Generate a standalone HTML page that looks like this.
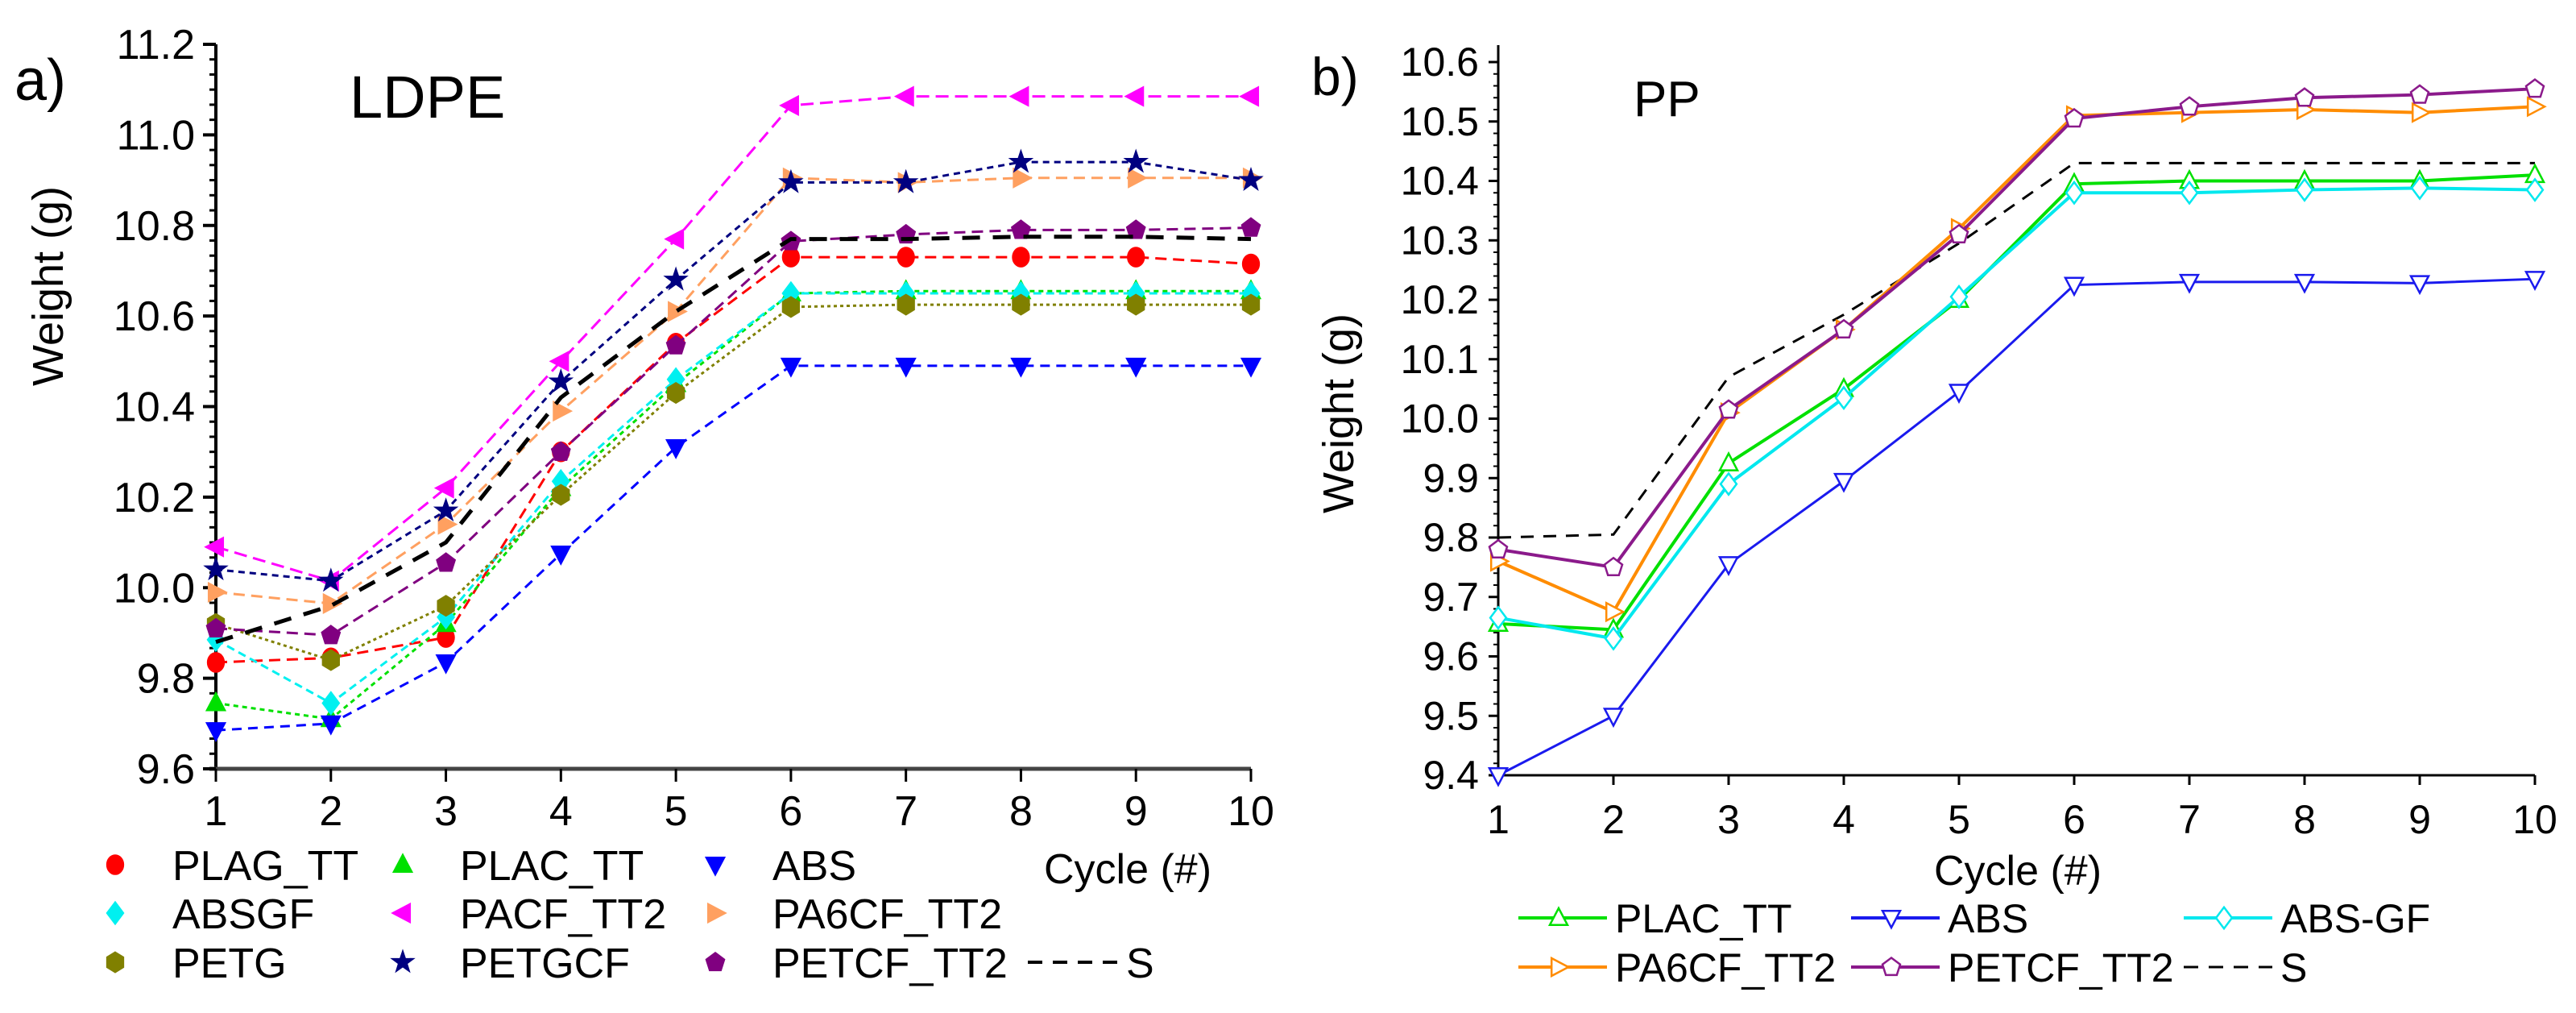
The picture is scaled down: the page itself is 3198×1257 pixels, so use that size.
<!DOCTYPE html>
<html><head><meta charset="utf-8"><style>
html,body{margin:0;padding:0;background:#fff;}
svg{display:block;font-family:"Liberation Sans",Arial,sans-serif;}
</style></head><body>
<svg id="chart" width="3198" height="1257" viewBox="0 0 3198 1257" xmlns="http://www.w3.org/2000/svg">
<g id="left"></g>
<g id="right"></g>
</svg>
<script>
const cycles = [1,2,3,4,5,6,7,8,9,10];
const leftNames = ["PLAG_TT","PLAC_TT","ABS","ABSGF","PACF_TT2","PA6CF_TT2","PETG","PETGCF","PETCF_TT2","S"];
const plagTT = [9.835,9.845,9.89,10.30,10.54,10.73,10.73,10.73,10.73,10.715];
const placTT = [9.745,9.71,9.92,10.22,10.45,10.65,10.655,10.655,10.655,10.655];
const absL = [9.685,9.70,9.835,10.075,10.31,10.49,10.49,10.49,10.49,10.49];
const absgf = [9.885,9.745,9.935,10.235,10.46,10.65,10.65,10.65,10.65,10.65];
const pacf = [10.09,10.015,10.22,10.50,10.77,11.065,11.085,11.085,11.085,11.085];
const pa6cfL = [9.99,9.965,10.14,10.39,10.61,10.905,10.895,10.905,10.905,10.905];
const petg = [9.92,9.84,9.96,10.205,10.43,10.62,10.625,10.625,10.625,10.625];
const petgcf = [10.04,10.015,10.17,10.455,10.68,10.895,10.895,10.94,10.94,10.90];
const petcfL = [9.91,9.895,10.055,10.30,10.535,10.765,10.78,10.79,10.79,10.795];
const sL = [9.88,9.96,10.10,10.42,10.61,10.77,10.77,10.775,10.775,10.77];
const leftTicks = ["9.6","9.8","10.0","10.2","10.4","10.6","10.8","11.0","11.2"];

const rightNames = ["PLAC_TT","ABS","ABS-GF","PA6CF_TT2","PETCF_TT2","S"];
const placR = [9.655,9.645,9.925,10.05,10.20,10.395,10.40,10.40,10.40,10.41];
const absR = [9.40,9.50,9.755,9.895,10.045,10.225,10.23,10.23,10.228,10.235];
const absgfR = [9.665,9.63,9.89,10.035,10.205,10.38,10.38,10.385,10.388,10.385];
const pa6cfR = [9.76,9.675,10.01,10.15,10.32,10.51,10.515,10.52,10.515,10.525];
const petcfR = [9.78,9.75,10.015,10.15,10.31,10.505,10.525,10.54,10.545,10.555];
const sR = [9.80,9.805,10.07,10.175,10.295,10.43,10.43,10.43,10.43,10.43];
const rightTicks = ["9.4","9.5","9.6","9.7","9.8","9.9","10.0","10.1","10.2","10.3","10.4","10.5","10.6"];

const NS="http://www.w3.org/2000/svg";
function mk(parent,tag,attrs,text){const e=document.createElementNS(NS,tag);for(const k in attrs)e.setAttribute(k,attrs[k]);if(text!==undefined)e.textContent=text;parent.appendChild(e);return e;}

function marker(g,type,cx,cy,r,fill,stroke){
  let e;
  const poly=(pts)=>mk(g,'polygon',{points:pts.map(p=>(cx+p[0]*r).toFixed(1)+','+(cy+p[1]*r).toFixed(1)).join(' '),fill:fill,stroke:stroke,'stroke-width':2.5});
  if(type==='circle') e=mk(g,'ellipse',{cx:cx,cy:cy,rx:r*0.9,ry:r*1.05,fill:fill,stroke:stroke,'stroke-width':2.5});
  else if(type==='up') e=poly([[0,-1.1],[1,0.8],[-1,0.8]]);
  else if(type==='down') e=poly([[0,1.1],[1,-0.8],[-1,-0.8]]);
  else if(type==='left') e=poly([[-1.1,0],[0.8,-1],[0.8,1]]);
  else if(type==='right') e=poly([[1.1,0],[-0.8,-1],[-0.8,1]]);
  else if(type==='diamond') e=poly([[0,-1.2],[0.9,0],[0,1.2],[-0.9,0]]);
  else if(type==='hex') e=poly([[0,-1.1],[0.9,-0.55],[0.9,0.55],[0,1.1],[-0.9,0.55],[-0.9,-0.55]]);
  else if(type==='pent') e=poly([[0,-1.05],[1,-0.3],[0.62,0.9],[-0.62,0.9],[-1,-0.3]]);
  else if(type==='star'){const pts=[];for(let i=0;i<10;i++){const a=-Math.PI/2+i*Math.PI/5;const rr=i%2?0.45:1.15;pts.push([Math.cos(a)*rr,Math.sin(a)*rr]);}e=poly(pts);}
  return e;
}

/* ---------- LEFT ---------- */
(function(){
  const g=document.getElementById('left');
  const x0=268,x1=1553,yb=954,yt=55,vmin=9.6,vmax=11.2;
  const X=c=>x0+(c-1)*(x1-x0)/9;
  const Y=v=>yb-(v-vmin)*(yb-yt)/(vmax-vmin);
  const ax=mk(g,'line',{x1:x0,y1:yt,x2:x0,y2:yb,stroke:'#000','stroke-width':4});
  
  const bx=mk(g,'line',{x1:x0-8,y1:yb,x2:x1,y2:yb,stroke:'#444','stroke-width':5});
  
  leftTicks.forEach((t,i)=>{
    const v=parseFloat(t),y=Y(v);
    mk(g,'line',{x1:x0-16,y1:y,x2:x0,y2:y,stroke:'#000','stroke-width':4});
    if(i<leftTicks.length-1){for(let k=1;k<6;k++){const yy=Y(v+0.2*k/6);mk(g,'line',{x1:x0-8,y1:yy,x2:x0,y2:yy,stroke:'#000','stroke-width':3});}}
    const tl=mk(g,'text',{x:x0-26,y:y+18,'text-anchor':'end','font-size':52},t);
    
  });
  cycles.forEach(c=>{
    mk(g,'line',{x1:X(c),y1:yb,x2:X(c),y2:yb+16,stroke:'#000','stroke-width':3});
    const tl=mk(g,'text',{x:X(c),y:yb+70,'text-anchor':'middle','font-size':52},String(c));
    
  });
  const yl=mk(g,'text',{x:0,y:0,transform:'translate(78,355) rotate(-90)','text-anchor':'middle','font-size':54},'Weight (g)');
  
  const pl=mk(g,'text',{x:18,y:124,'font-size':72},'a)');
  
  const tt=mk(g,'text',{x:434,y:146,'font-size':74},'LDPE');
  

  const series=[
    {d:plagTT,c:'#ff0000',m:'circle',dash:'14 8'},
    {d:placTT,c:'#00e000',m:'up',dash:'6 5'},
    {d:absL,c:'#0000ff',m:'down',dash:'12 8'},
    {d:absgf,c:'#00f0f0',m:'diamond',dash:'10 6'},
    {d:pacf,c:'#ff00ff',m:'left',dash:'16 8'},
    {d:pa6cfL,c:'#ffa060',m:'right',dash:'14 8'},
    {d:petg,c:'#808000',m:'hex',dash:'4 4'},
    {d:petgcf,c:'#000080',m:'star',dash:'8 6'},
    {d:petcfL,c:'#800080',m:'pent',dash:'14 8'}
  ];
  series.forEach((s,si)=>{
    const sg=mk(g,'g',{});
    
    
    mk(sg,'polyline',{points:s.d.map((v,i)=>X(cycles[i])+','+Y(v)).join(' '),fill:'none',stroke:s.c,'stroke-width':3,'stroke-dasharray':s.dash});
    s.d.forEach((v,i)=>{const m=marker(sg,s.m,X(cycles[i]),Y(v),11,s.c,s.c);
      });
  });
  const sg=mk(g,'g',{});
  
  mk(sg,'polyline',{points:sL.map((v,i)=>X(cycles[i])+','+Y(v)).join(' '),fill:'none',stroke:'#000','stroke-width':5,'stroke-dasharray':'22 16'});

  const lg=mk(g,'g',{});
  
  const colX=[143,500,888],txtX=[214,571,959],rowY=[1073,1133,1194];
  series.forEach((s,i)=>{
    const r=Math.floor(i/3),c=i%3;
    const e=mk(lg,'g',{});
    
    marker(e,s.m,colX[c],rowY[r],11,s.c,s.c);
    mk(e,'text',{x:txtX[c],y:rowY[r]+19,'font-size':52},leftNames[i]);
  });
  const se=mk(lg,'g',{});
  
  mk(se,'line',{x1:1276,y1:1194,x2:1390,y2:1194,stroke:'#000','stroke-width':4,'stroke-dasharray':'18 13'});
  mk(se,'text',{x:1398,y:1213,'font-size':52},'S');
  const xt=mk(g,'text',{x:1296,y:1096,'font-size':52},'Cycle (#)');
  
})();

/* ---------- RIGHT ---------- */
(function(){
  const g=document.getElementById('right');
  const x0=1860,x1=3147,yb=962,yt=77,vmin=9.4,vmax=10.6;
  const X=c=>x0+(c-1)*(x1-x0)/9;
  const Y=v=>yb-(v-vmin)*(yb-yt)/(vmax-vmin);
  const ax=mk(g,'line',{x1:x0,y1:56,x2:x0,y2:yb,stroke:'#000','stroke-width':3});
  
  const bx=mk(g,'line',{x1:x0,y1:yb,x2:x1,y2:yb,stroke:'#000','stroke-width':3});
  
  rightTicks.forEach((t,i)=>{
    const v=parseFloat(t),y=Y(v);
    mk(g,'line',{x1:x0-12,y1:y,x2:x0,y2:y,stroke:'#000','stroke-width':3});
    if(i<rightTicks.length-1){for(let k=1;k<5;k++){const yy=Y(v+0.1*k/5);mk(g,'line',{x1:x0-6,y1:yy,x2:x0,y2:yy,stroke:'#000','stroke-width':2});}}
    const tl=mk(g,'text',{x:x0-24,y:y+17,'text-anchor':'end','font-size':50},t);
    
  });
  cycles.forEach(c=>{
    mk(g,'line',{x1:X(c),y1:yb,x2:X(c),y2:yb+12,stroke:'#000','stroke-width':3});
    const tl=mk(g,'text',{x:X(c),y:yb+72,'text-anchor':'middle','font-size':50},String(c));
    
  });
  const xt=mk(g,'text',{x:2505,y:1098,'text-anchor':'middle','font-size':52},'Cycle (#)');
  
  const yl=mk(g,'text',{x:0,y:0,transform:'translate(1680,513) rotate(-90)','text-anchor':'middle','font-size':54},'Weight (g)');
  
  const pl=mk(g,'text',{x:1628,y:118,'font-size':66},'b)');
  
  const tt=mk(g,'text',{x:2028,y:144,'font-size':62},'PP');
  

  const series=[
    {d:sR,c:'#000',m:null,dash:'16 12',w:3},
    {d:placR,c:'#00e000',m:'up',w:4},
    {d:absR,c:'#1a1aee',m:'down',w:3},
    {d:absgfR,c:'#00e8ee',m:'diamond',w:4},
    {d:pa6cfR,c:'#ff8c00',m:'right',w:4},
    {d:petcfR,c:'#8b1a8b',m:'pent',w:4}
  ];
  const nm=['S','PLAC_TT','ABS','ABS-GF','PA6CF_TT2','PETCF_TT2'];
  series.forEach((s,si)=>{
    const sg=mk(g,'g',{});
    
    
    const a={points:s.d.map((v,i)=>X(cycles[i])+','+Y(v)).join(' '),fill:'none',stroke:s.c,'stroke-width':s.w};
    if(s.dash)a['stroke-dasharray']=s.dash;
    mk(sg,'polyline',a);
    if(s.m)s.d.forEach((v,i)=>{const m=marker(sg,s.m,X(cycles[i]),Y(v),11,'#fff',s.c);
      });
  });
  const lg=mk(g,'g',{});
  
  const items=[[1,0,0],[2,1,0],[3,2,0],[4,0,1],[5,1,1],[0,2,1]];
  const lx=[1885,2298,2711],rowY=[1139,1200];
  items.forEach(([si,c,r])=>{
    const s=series[si];
    const e=mk(lg,'g',{});
    
    const a={x1:lx[c],y1:rowY[r],x2:lx[c]+110,y2:rowY[r],stroke:s.c,'stroke-width':s.m?4:3};
    if(s.dash)a['stroke-dasharray']='18 13';
    mk(e,'line',a);
    if(s.m)marker(e,s.m,lx[c]+50,rowY[r],11,'#fff',s.c);
    mk(e,'text',{x:lx[c]+120,y:rowY[r]+18,'font-size':50},nm[si]);
  });
})();
</script>
</body></html>
